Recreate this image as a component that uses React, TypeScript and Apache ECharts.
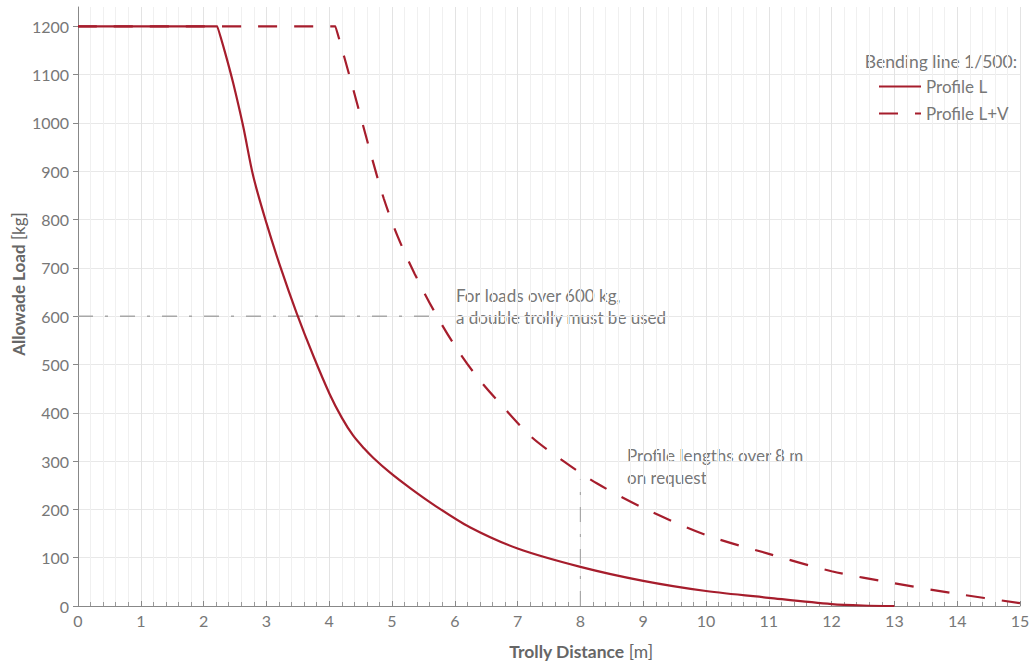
import React, { useEffect, useRef } from "react";
import * as echarts from "echarts";

const profileLX = [0, 2.22, 2.23, 2.35, 2.47, 2.63, 2.79, 3.0, 3.22, 3.48, 3.75, 4.01, 4.2, 4.38, 4.55, 4.7, 4.97, 5.3, 5.66, 6.24, 7.0, 8, 9, 10, 11, 12, 12.5, 13];
const profileLY = [1200, 1200, 1200, 1142, 1083, 993, 890, 793, 703, 607, 517, 438, 390, 353, 327, 307, 276, 243, 210, 163, 119, 81, 52, 31, 17, 4, 1, 0];

const profileLVX = [0, 4.1, 4.11, 4.35, 4.52, 4.69, 4.87, 5.09, 5.36, 5.66, 5.98, 6.35, 6.77, 7.22, 7.73, 8.26, 9, 10, 11, 12, 13, 14, 15];
const profileLVY = [1200, 1200, 1200, 1085, 1004, 923, 843, 765, 688, 613, 543, 475, 412, 350, 300, 254, 203, 147, 108, 72, 47, 25, 6];

const refLoadX = [0, 5.76];
const refLoadY = [600, 600];
const refLengthX = [8, 8];
const refLengthY = [0, 262];

const yTicks = [0, 100, 200, 300, 400, 500, 600, 700, 800, 900, 1000, 1100, 1200];

const seriesNames = ["Profile L", "Profile L+V"];
const legendTitle = "Bending line 1/500:";
const yName = "Allowade Load";
const yUnit = "[kg]";
const xName = "Trolly Distance";
const xUnit = "[m]";
const note1 = "For loads over 600 kg,\na double trolly must be used";
const note2 = "Profile lengths over 8 m\non request";

const zip = (xs: number[], ys: number[]) => xs.map((x, i) => [x, ys[i]]);

export default function App() {
  const ref = useRef<HTMLDivElement>(null);
  useEffect(() => {
    if (!ref.current) return;
    const chart = echarts.init(ref.current, null, { renderer: "svg" });
    const font = "Lato, 'Open Sans', sans-serif";
    const red = "#a61d2c";
    const gray = "#777";
    chart.setOption({
      animation: false,
      textStyle: { fontFamily: font },
      grid: { left: 78, right: 14, top: 7, bottom: 60, containLabel: false },
      legend: {
        orient: "vertical",
        left: 873,
        top: 73,
        itemWidth: 42,
        itemHeight: 14,
        itemGap: 10,
        itemStyle: { opacity: 0 },
        textStyle: { fontFamily: font, fontSize: 17, color: gray },
        data: seriesNames,
      },
      xAxis: {
        type: "value",
        min: 0,
        max: 15,
        interval: 1,
        axisLine: { show: true, lineStyle: { color: "#888", width: 1 } },
        axisTick: { show: true, inside: true, length: 5, lineStyle: { color: "#888" } },
        minorTick: { show: true, splitNumber: 5, length: 4, lineStyle: { color: "#999" } },
        axisLabel: { color: gray, fontSize: 16, fontFamily: font, margin: 6 },
        splitLine: { show: true, lineStyle: { color: "#e3e3e3", width: 1 } },
        minorSplitLine: { show: true, lineStyle: { color: "#f0f0f0", width: 1 } },
      },
      yAxis: {
        type: "value",
        min: 0,
        max: 1240,
        interval: 100,
        axisLine: { show: true, lineStyle: { color: "#888", width: 1 } },
        axisTick: { show: true, length: 5, lineStyle: { color: "#888" }, customValues: yTicks },
        minorTick: { show: false },
        axisLabel: {
          color: gray,
          fontSize: 16,
          fontFamily: font,
          margin: 9,
          customValues: yTicks,
          formatter: (v: number) => (v > 1200 ? "" : String(v)),
        },
        splitLine: { show: true, showMaxLine: false, lineStyle: { color: "#e8e8e8", width: 1 } },
      },
      series: [
        {
          name: seriesNames[0],
          type: "line",
          data: zip(profileLX, profileLY),
          smooth: 0.3,
          showSymbol: false,
          symbol: "none",
          lineStyle: { color: red, width: 2.2 },
          itemStyle: { color: red },
          z: 5,
        },
        {
          name: seriesNames[1],
          type: "line",
          data: zip(profileLVX, profileLVY),
          smooth: 0.3,
          showSymbol: false,
          symbol: "none",
          lineStyle: { color: red, width: 2.2, type: [19, 17] },
          itemStyle: { color: red },
          z: 5,
        },
        {
          name: "ref600",
          type: "line",
          data: zip(refLoadX, refLoadY),
          showSymbol: false,
          symbol: "none",
          silent: true,
          lineStyle: { color: "#a8a8a8", width: 1.5, type: [15, 12, 3, 12] },
          z: 3,
        },
        {
          name: "ref8",
          type: "line",
          data: zip(refLengthX, refLengthY),
          showSymbol: false,
          symbol: "none",
          silent: true,
          lineStyle: { color: "#a8a8a8", width: 1.2, type: [15, 12, 3, 12] },
          z: 3,
        },
      ],
      graphic: [
        {
          type: "text",
          right: 17,
          top: 52,
          style: { text: legendTitle, fill: gray, fontSize: 17.5, fontFamily: font },
        },
        {
          type: "text",
          x: 456,
          y: 284,
          style: { text: note1, fill: gray, fontSize: 17, fontFamily: font, lineHeight: 22 },
        },
        {
          type: "text",
          x: 627,
          y: 444,
          style: { text: note2, fill: gray, fontSize: 17, fontFamily: font, lineHeight: 22 },
        },
        {
          type: "text",
          x: 18,
          y: 284,
          rotation: Math.PI / 2,
          style: {
            text: "{b|" + yName + "} " + yUnit,
            fill: "#666",
            fontSize: 17,
            fontFamily: font,
            align: "center",
            verticalAlign: "middle",
            rich: { b: { fontWeight: "bold", fontSize: 17, fontFamily: font, fill: "#666" } },
          },
        },
        {
          type: "text",
          x: 581,
          y: 651,
          style: {
            text: "{b|" + xName + "} " + xUnit,
            fill: "#666",
            fontSize: 17.5,
            fontFamily: font,
            align: "center",
            verticalAlign: "middle",
            rich: { b: { fontWeight: "bold", fontSize: 17.5, fontFamily: font, fill: "#666" } },
          },
        },
      ],
    });
    return () => chart.dispose();
  }, []);
  return <div ref={ref} style={{ width: 1034, height: 666, position: "absolute", left: 0, top: 0 }} />;
}
